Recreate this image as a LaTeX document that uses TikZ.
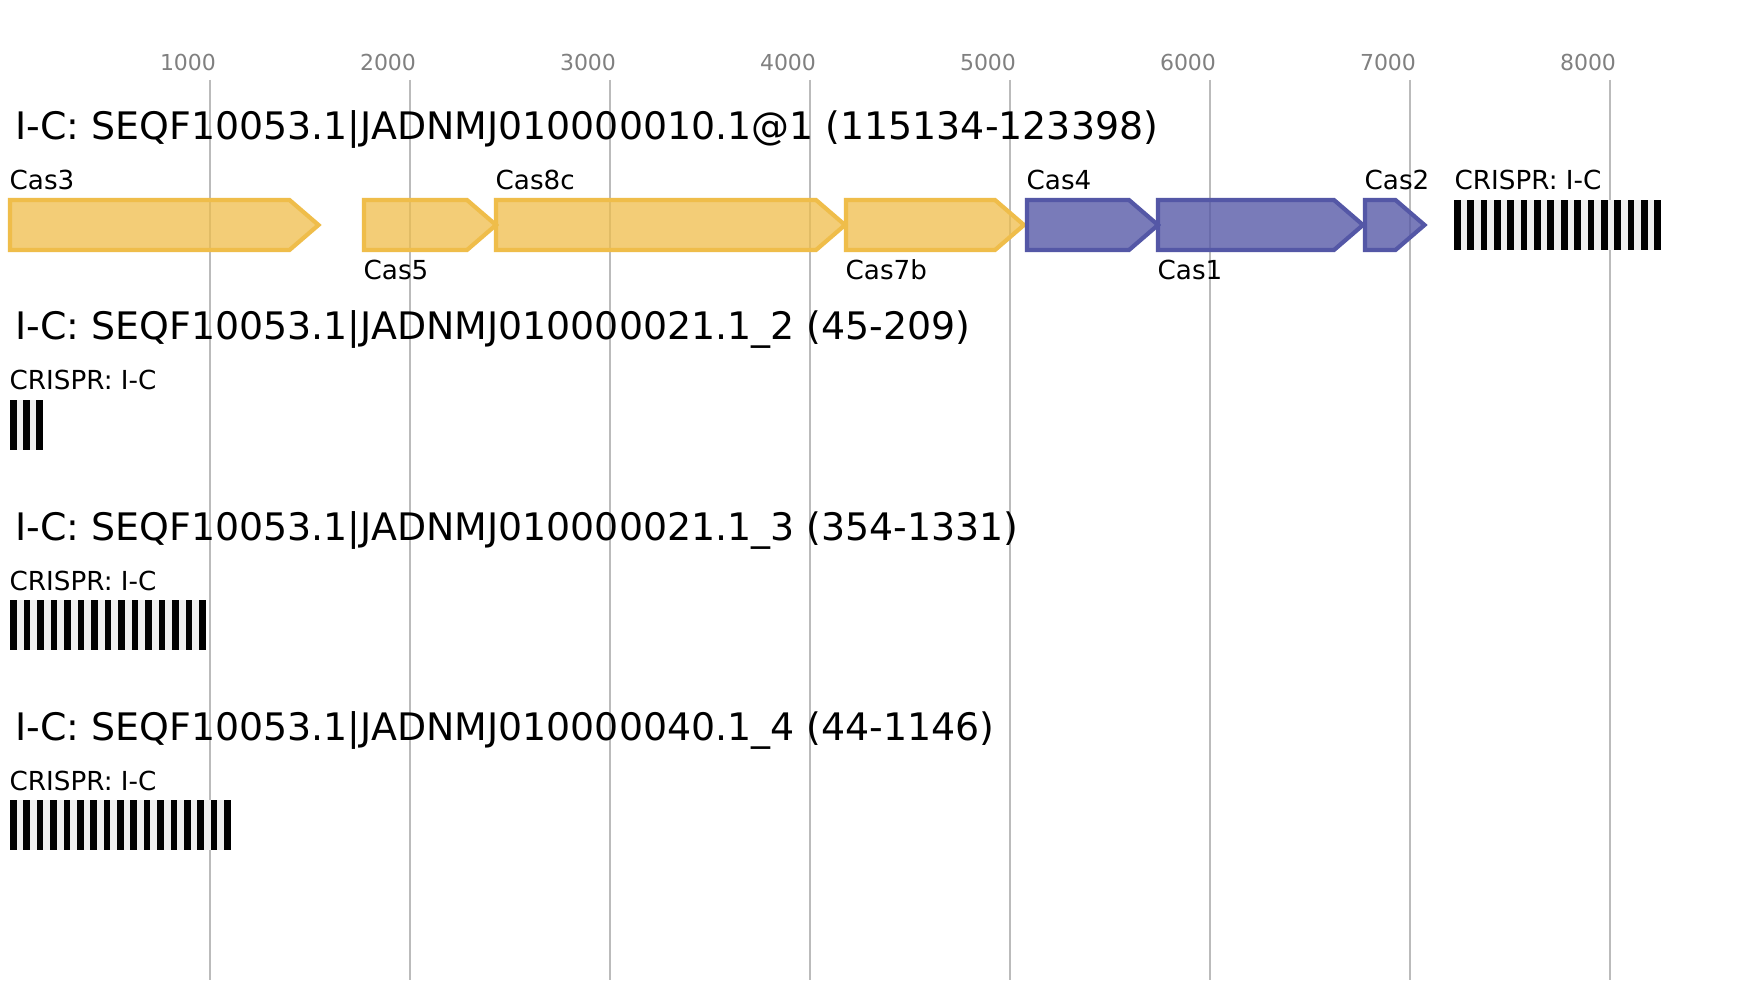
\documentclass[tikz,border=0pt]{standalone}
\usepackage{fontspec}
\setmainfont{DejaVu Sans}
\definecolor{gridc}{RGB}{187,187,187}
\definecolor{tickc}{RGB}{128,128,128}
\definecolor{yelS}{RGB}{239,189,74}
\definecolor{purS}{RGB}{84,87,166}
\definecolor{crgray}{RGB}{238,238,238}
\tikzset{
  gridline/.style={draw=gridc,line width=0.9pt},
  ticklabel/.style={text=tickc,font=\fontsize{11pt}{13pt}\selectfont,inner sep=0pt,anchor=base},
  rowtitle/.style={font=\fontsize{18.95pt}{22pt}\selectfont,inner sep=0pt,anchor=base west},
  genelabel/.style={font=\fontsize{13.1pt}{15pt}\selectfont,inner sep=0pt,anchor=base west},
  yelgene/.style={draw=yelS,fill=yelS,fill opacity=0.75,line width=2.1pt},
  purgene/.style={draw=purS,fill=purS,fill opacity=0.78,line width=2.1pt},
}
% gene arrow: left x, tip x, top y, style
\newcommand\genearrow[4]{%
  \draw[#4] (#1,#3) -- ({#2-29},#3) -- (#2,{#3+25}) -- ({#2-29},{#3+50}) -- (#1,{#3+50}) -- cycle;}
% crispr array: x0, x1, top y, number of spacers(black bars)
\newcommand\crisprarray[4]{%
  \fill[crgray] (#1,#3) rectangle (#2,{#3+50});
  \pgfmathsetmacro\cw{(#2-#1)/(2*#4-1)}%
  \foreach \i in {1,...,#4}{%
    \fill[black] ({#1+2*(\i-1)*\cw},#3) rectangle ({#1+(2*\i-1)*\cw},{#3+50});
  }}
\begin{document}
\begin{tikzpicture}[x=0.5pt,y=-0.5pt]
\useasboundingbox (0,0) rectangle (1753,1000);
\fill[white] (0,0) rectangle (1753,1000);
% grid
\foreach \k in {1,...,8}{
  \draw[gridline] ({10+200*\k},80) -- ({10+200*\k},980);
  \node[ticklabel] (tick\k) at ({10+200*\k-22},70.7) {\k000};
}
% row 1
\node[rowtitle] (t1) at (15,140) {I-C: SEQF10053.1|JADNMJ010000010.1@1 (115134-123398)};
\genearrow{10}{318.5}{200}{yelgene}
\genearrow{364}{496}{200}{yelgene}
\genearrow{496}{845}{200}{yelgene}
\genearrow{846}{1024}{200}{yelgene}
\genearrow{1027}{1158}{200}{purgene}
\genearrow{1158}{1363}{200}{purgene}
\genearrow{1365}{1424.5}{200}{purgene}
\crisprarray{1454}{1661}{200}{16}
\node[genelabel] (lcas3) at (9.3,190) {Cas3};
\node[genelabel] (lcas5) at (363.3,280) {Cas5};
\node[genelabel] (lcas8c) at (495.3,190) {Cas8c};
\node[genelabel] (lcas7b) at (845.3,280) {Cas7b};
\node[genelabel] (lcas4) at (1026.3,190) {Cas4};
\node[genelabel] (lcas1) at (1157.3,280) {Cas1};
\node[genelabel] (lcas2) at (1364.3,190) {Cas2};
\node[genelabel] (lcr1) at (1454.3,190) {CRISPR: I-C};
% row 2
\node[rowtitle] (t2) at (15,340) {I-C: SEQF10053.1|JADNMJ010000021.1\_2 (45-209)};
\node[genelabel] (lcr2) at (9.3,390) {CRISPR: I-C};
\crisprarray{10}{42.7}{400}{3}
% row 3
\node[rowtitle] (t3) at (15,540) {I-C: SEQF10053.1|JADNMJ010000021.1\_3 (354-1331)};
\node[genelabel] (lcr3) at (9.3,590) {CRISPR: I-C};
\crisprarray{10}{206}{600}{15}
% row 4
\node[rowtitle] (t4) at (15,740) {I-C: SEQF10053.1|JADNMJ010000040.1\_4 (44-1146)};
\node[genelabel] (lcr4) at (9.3,790) {CRISPR: I-C};
\crisprarray{10}{230.7}{800}{17}
\end{tikzpicture}
\end{document}
